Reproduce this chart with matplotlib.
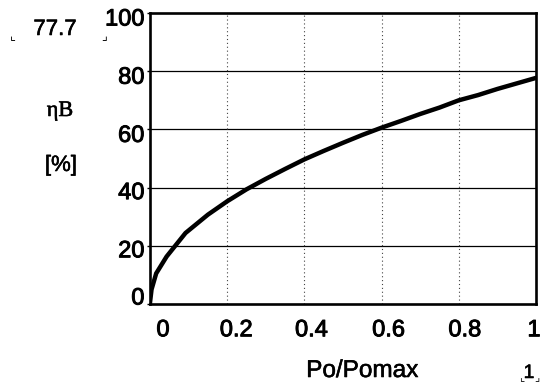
import matplotlib
matplotlib.use('Agg')
from matplotlib import pyplot as plt
from matplotlib.transforms import ScaledTranslation
import matplotlib.patheffects as pe

# efficiency curve
po_ratio = [0.0, 0.004, 0.016, 0.043, 0.092, 0.15, 0.2, 0.25, 0.3, 0.35, 0.4, 0.45,
            0.5, 0.55, 0.6, 0.65, 0.7, 0.75, 0.8, 0.85, 0.9, 0.95, 1.0]
eta_b = [0.5, 5.0, 10.5, 16.3, 24.4, 30.7, 35.3, 39.4, 43.0, 46.4, 49.7, 52.6,
         55.4, 58.1, 60.6, 62.9, 65.3, 67.5, 70.0, 71.8, 73.9, 75.8, 77.7]

xticks = [0, 0.2, 0.4, 0.6, 0.8, 1.0]
xtick_labels = ['0', '0.2', '0.4', '0.6', '0.8', '1']
xtick_shift = [13, 9, 7, 7, 6, -2]     # px, Mathcad puts labels right of the grid lines
yticks = [0, 20, 40, 60, 80, 100]
ytick_shift = [8, -3, -3, -4, -4, -4]  # px, "0" sits above the axis

W, H = 541, 387
def px(x, y):
    return x / W, 1 - y / H

plt.rcParams['font.family'] = ['Liberation Sans', 'DejaVu Sans']
thick = [pe.withStroke(linewidth=0.7, foreground='black')]
thin = [pe.withStroke(linewidth=0.4, foreground='black')]

fig = plt.figure(figsize=(W / 100, H / 100), dpi=100)
ax = fig.add_axes([150 / W, 1 - 304 / H, (536 - 150) / W, (304 - 13) / H])

for v in [20, 40, 60, 80]:
    ax.axhline(v, color='black', lw=0.9, zorder=1)
for v in [0.2, 0.4, 0.6, 0.8]:
    ax.axvline(v, color='#444444', lw=0.8, ls=(0, (1, 2.5)), zorder=1)

ax.plot(po_ratio, eta_b, color='black', lw=3.2, solid_joinstyle='miter', zorder=3)

ax.set_xlim(0, 1)
ax.set_ylim(0, 100)
ax.set_xticks(xticks)
ax.set_xticklabels(xtick_labels)
ax.set_yticks(yticks)
ax.tick_params(axis='both', labelsize=17, width=1, direction='out')
ax.tick_params(axis='x', length=0, pad=11)
ax.tick_params(axis='y', length=2, pad=2)

for s in ax.spines.values():
    s.set_linewidth(1.9)

for lab, dx in zip(ax.get_xticklabels(), xtick_shift):
    lab.set_transform(lab.get_transform() + ScaledTranslation(dx / 100, 0, fig.dpi_scale_trans))
    lab.set_path_effects(thick)
for lab, dy in zip(ax.get_yticklabels(), ytick_shift):
    lab.set_transform(lab.get_transform() + ScaledTranslation(0, dy / 100, fig.dpi_scale_trans))
    lab.set_path_effects(thick)

# labels around the plot (Mathcad style)
fig.text(*px(55, 35), '77.7', fontsize=16, ha='center', va='baseline', path_effects=thin)
fig.text(*px(13, 37), '\u231e', fontsize=9, ha='center', va='center', family='DejaVu Sans')
fig.text(*px(104, 37), '\u231f', fontsize=9, ha='center', va='center', family='DejaVu Sans')
fig.text(*px(60, 116), '\u03b7B', fontsize=16, ha='center', va='baseline',
         family=['Liberation Serif', 'DejaVu Serif'], path_effects=thin)
fig.text(*px(61, 171), '[%]', fontsize=16, ha='center', va='baseline', path_effects=thin)
fig.text(*px(362, 377), 'Po/Pomax', fontsize=17.5, ha='center', va='baseline', path_effects=thin)
fig.text(*px(529, 378), '1', fontsize=14, ha='center', va='baseline', path_effects=thin)
fig.text(*px(522, 378), '\u231e', fontsize=8, ha='center', va='center', family='DejaVu Sans')
fig.text(*px(537, 378), '\u231f', fontsize=8, ha='center', va='center', family='DejaVu Sans')

fig.savefig('out.png', dpi=100)
